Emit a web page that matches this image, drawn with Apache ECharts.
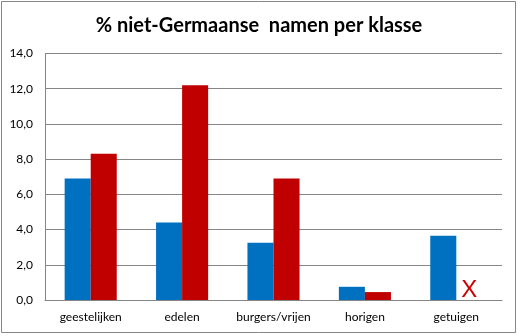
<!DOCTYPE html>
<html>
<head>
<meta charset="utf-8">
<script src="https://cdn.jsdelivr.net/npm/echarts@6/dist/echarts.min.js"></script>
<style>
  html, body { margin: 0; padding: 0; background: #fff; }
  #chart { width: 518px; height: 336px; }
</style>
</head>
<body>
<div id="chart"></div>
<script>
// Share of non-Germanic names per social class
const categories = ['geestelijken', 'edelen', 'burgers/vrijen', 'horigen', 'getuigen'];
const seriesA = [6.9, 4.4, 3.25, 0.75, 3.65];
const seriesB = [8.3, 12.2, 6.9, 0.45, 0];
// classes without a value in the second series are marked with an X
const missingB = [false, false, false, false, true];
const yTicks = { min: 0, max: 14, interval: 2 };

const font = 'Lato, "Open Sans", sans-serif';

const chart = echarts.init(document.getElementById('chart'), null, { renderer: 'canvas' });

chart.setOption({
  animation: false,
  backgroundColor: '#fff',
  title: {
    text: '% niet-Germaanse  namen per klasse',
    left: 'center',
    top: 11,
    textStyle: { fontFamily: font, fontSize: 20, fontWeight: 'bold', color: '#000' }
  },
  graphic: [{
    type: 'rect',
    shape: { x: 1.5, y: 1.5, width: 514, height: 331 },
    style: { fill: 'none', stroke: '#868686', lineWidth: 1 },
    silent: true
  }],
  grid: { left: 45, right: 16, top: 53.5, bottom: 36 },
  xAxis: {
    type: 'category',
    data: categories,
    axisLine: { lineStyle: { color: '#868686' } },
    axisTick: { show: false },
    axisLabel: { interval: 0, fontFamily: font, fontSize: 12, color: '#000', margin: 11 }
  },
  yAxis: {
    type: 'value',
    min: yTicks.min,
    max: yTicks.max,
    interval: yTicks.interval,
    axisLine: { show: true, lineStyle: { color: '#868686' } },
    axisTick: { show: false },
    splitLine: { lineStyle: { color: '#868686' } },
    axisLabel: {
      fontFamily: font, fontSize: 12, color: '#000', margin: 12,
      formatter: v => v.toFixed(1).replace('.', ',')
    }
  },
  series: [
    {
      type: 'bar',
      data: seriesA,
      barGap: '0%',
      barCategoryGap: '43%',
      itemStyle: { color: '#0070C0' }
    },
    {
      type: 'bar',
      data: seriesB.map((v, i) => missingB[i]
        ? { value: v, label: { show: true, formatter: 'X', position: 'top', distance: -2,
              fontFamily: '"Liberation Sans", Arial, sans-serif', fontSize: 24, color: '#CC0000' } }
        : v),
      itemStyle: { color: '#C00000' }
    }
  ]
});
</script>
</body>
</html>
